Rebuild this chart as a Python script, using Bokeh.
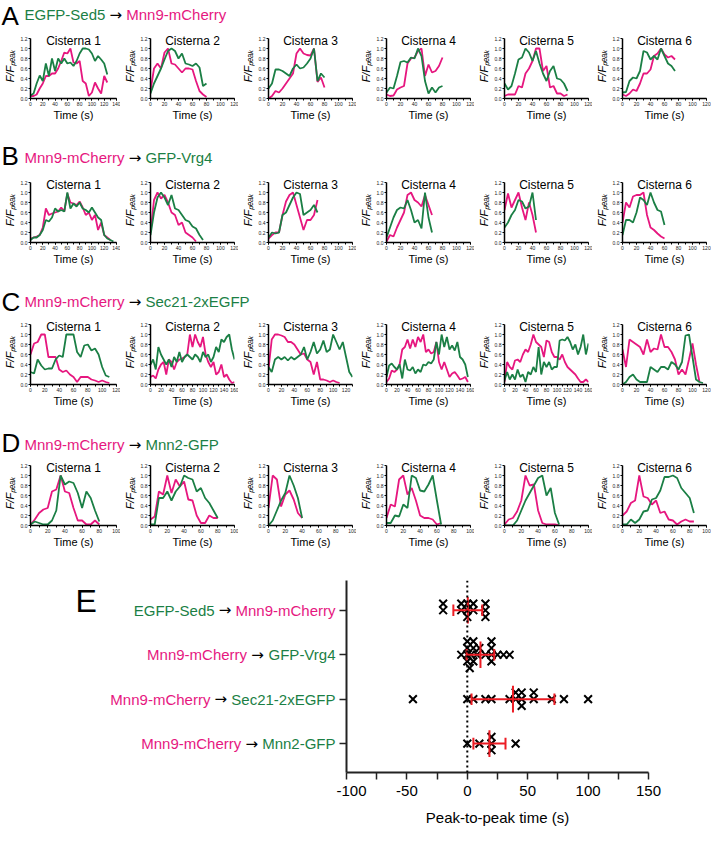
import numpy as np
from bokeh.plotting import figure
from bokeh.layouts import column, row
from bokeh.models import Range1d, FixedTicker, Label, Span, PrintfTickFormatter
from bokeh.embed import file_html
from bokeh.resources import INLINE
from bokeh.core.properties import value

GREEN = "#1b7f45"
MAGENTA = "#e6177f"
RED = "#ec1c24"
FONT = "Liberation Sans"
ARROW_FONT = "DejaVu Sans"
COLORS = {"green": GREEN, "magenta": MAGENTA}

STEP = 5  # sampling interval of the traces (s)

CISTERNAE = ["Cisterna 1", "Cisterna 2", "Cisterna 3", "Cisterna 4", "Cisterna 5", "Cisterna 6"]
Y_LABEL = "F/F\u209a\u2091\u2090\u2096"
X_LABEL = "Time (s)"

# ---------------- Row A ----------------
HEAD_A = ("A", ("EGFP-Sed5", "green"), ("Mnn9-mCherry", "magenta"))
A_XMAX = [140, 120, 120, 120, 120, 120]
A_GREEN = [
    [0.06, 0.1, 0.3, 0.46, 0.35, 0.7, 0.45, 0.8, 0.55, 0.8, 0.7, 0.8, 0.7, 0.72, 0.65, 0.75, 0.9, 1.0, 1.0, 0.98, 0.9, 0.75, 0.85, 0.78, 0.7, 0.48],
    [0.1, 0.3, 0.45, 0.6, 0.78, 0.95, 1.0, 0.95, 0.8, 0.9, 0.7, 0.68, 0.65, 0.7, 0.62, 0.25, 0.3],
    [0.2, 0.3, 0.58, 0.58, 0.55, 0.5, 0.45, 0.6, 0.68, 0.6, 0.62, 0.7, 0.8, 1.0, 0.35, 0.5, 0.42],
    [0.12, 0.22, 0.2, 0.45, 0.73, 0.75, 0.72, 0.82, 0.8, 1.0, 0.85, 0.35, 0.1, 0.22, 0.12, 0.22, 0.25],
    [0.3, 0.18, 0.25, 0.5, 0.78, 0.82, 1.0, 0.92, 0.75, 0.95, 0.7, 0.5, 0.35, 0.55, 0.65, 0.4, 0.38, 0.3, 0.15],
    [0.12, 0.13, 0.35, 0.42, 0.4, 0.55, 0.95, 0.92, 0.78, 0.85, 0.78, 1.0, 0.85, 0.7, 0.65, 0.55],
]
A_MAGENTA = [
    [0.05, 0.05, 0.08, 0.2, 0.3, 0.45, 0.45, 0.5, 0.5, 0.6, 0.75, 0.92, 0.9, 1.0, 0.72, 0.7, 0.75, 0.35, 0.3, 0.05, 0.12, 0.32, 0.2, 0.1, 0.45, 0.32],
    [0.15, 0.6, 0.7, 0.6, 0.92, 1.0, 0.7, 0.68, 0.6, 0.52, 0.6, 0.6, 0.58, 0.35, 0.15, 0.08, 0.03],
    [0.0, 0.05, 0.15, 0.12, 0.2, 0.3, 0.4, 0.5, 0.9, 1.0, 0.9, 0.87, 0.86, 1.0, 0.33, 0.42, 0.22],
    [0.08, 0.05, 0.06, 0.18, 0.22, 0.25, 0.7, 0.8, 0.82, 0.95, 1.0, 0.45, 0.68, 0.52, 0.55, 0.65, 0.82],
    [0.05, 0.08, 0.08, 0.08, 0.25, 0.22, 0.5, 0.6, 0.75, 1.0, 1.0, 0.55, 0.65, 0.22, 0.25, 0.1, 0.1, 0.05, 0.08],
    [0.08, 0.05, 0.1, 0.18, 0.15, 0.3, 0.5, 0.5, 0.58, 0.85, 0.9, 1.0, 0.88, 0.82, 0.85, 0.78],
]

# ---------------- Row B ----------------
HEAD_B = ("B", ("Mnn9-mCherry", "magenta"), ("GFP-Vrg4", "green"))
B_XMAX = [140, 120, 120, 120, 120, 120]
B_GREEN = [
    [0.05, 0.1, 0.1, 0.15, 0.25, 0.45, 0.42, 0.5, 0.68, 0.62, 0.65, 0.62, 1.0, 0.68, 0.78, 0.72, 0.8, 0.68, 0.65, 0.6, 0.7, 0.6, 0.5, 0.45, 0.15, 0.08, 0.05, 0.02],
    [0.15, 0.6, 0.9, 1.0, 0.9, 0.75, 0.95, 0.68, 0.65, 0.55, 0.45, 0.42, 0.32, 0.28, 0.15, 0.05],
    [0.1, 0.2, 0.18, 0.2, 0.55, 0.6, 0.75, 0.9, 1.0, 0.97, 0.55, 0.6, 0.65, 0.75, 0.6],
    [0.1, 0.3, 0.5, 0.65, 0.7, 0.68, 0.85, 0.65, 0.4, 0.45, 0.28, 1.0, 0.5, 0.2],
    [0.3, 0.4, 0.55, 0.65, 0.85, 0.82, 0.68, 0.72, 1.0, 0.45],
    [0.15, 0.45, 0.45, 0.4, 0.6, 0.9, 0.85, 0.75, 1.0, 0.8, 0.65, 0.62, 0.35],
]
B_MAGENTA = [
    [0.08, 0.1, 0.12, 0.15, 0.3, 0.68, 0.55, 0.58, 0.6, 0.62, 0.7, 0.62, 0.98, 0.8, 0.78, 0.75, 0.82, 0.7, 0.55, 0.6, 0.45, 0.55, 0.25, 0.4, 0.15, 0.1, 0.05],
    [0.2, 0.85, 1.0, 0.88, 0.95, 0.8, 0.6, 0.55, 0.35, 0.4, 0.2, 0.15, 0.1, 0.02],
    [0.08, 0.15, 0.2, 0.2, 0.55, 0.82, 0.95, 1.0, 0.75, 0.5, 0.25, 0.45, 0.45, 0.55, 0.85],
    [0.02, 0.15, 0.12, 0.3, 0.45, 0.6, 0.95, 1.0, 0.85, 0.8, 0.72, 0.95, 0.75, 0.55],
    [0.65, 0.98, 0.7, 0.85, 1.0, 0.7, 0.45, 0.8, 0.55, 0.2],
    [0.4, 0.8, 0.7, 0.92, 0.95, 0.95, 1.0, 0.55, 0.3, 0.25, 0.18, 0.12, 0.08],
]

# ---------------- Row C ----------------
HEAD_C = ("C", ("Mnn9-mCherry", "magenta"), ("Sec21-2xEGFP", "green"))
C_XMAX = [120, 160, 130, 160, 160, 120]
C_GREEN = [
    [0.25, 0.22, 0.5, 0.38, 0.3, 0.32, 0.32, 0.5, 0.58, 0.55, 1.0, 1.0, 1.0, 0.65, 0.55, 0.78, 0.8, 0.68, 0.72, 0.6, 0.35, 0.18, 0.15],
    [0.4, 0.5, 0.3, 0.75, 0.6, 0.5, 0.4, 0.5, 0.35, 0.55, 0.45, 0.65, 0.45, 0.55, 0.6, 0.55, 0.5, 0.6, 0.55, 0.45, 0.65, 0.55, 0.6, 0.45, 0.55, 0.75, 0.65, 0.9, 0.85, 0.95, 1.0, 0.7, 0.5],
    [0.35, 0.25, 0.5, 0.55, 0.5, 0.55, 0.48, 0.55, 0.5, 0.55, 0.6, 0.75, 0.5, 0.65, 0.85, 0.62, 0.7, 0.88, 0.65, 0.7, 1.0, 0.85, 0.7, 0.85, 0.55, 0.25, 0.15],
    [0.15, 0.38, 0.42, 0.35, 0.3, 0.4, 0.12, 0.5, 0.3, 0.28, 0.35, 0.22, 0.3, 0.25, 0.4, 0.38, 0.45, 0.42, 0.5, 0.85, 0.6, 1.0, 0.75, 0.95, 0.7, 0.78, 0.68, 0.85, 0.55, 0.5, 0.4, 0.15],
    [0.08, 0.25, 0.1, 0.2, 0.1, 0.3, 0.15, 0.2, 0.05, 0.25, 0.2, 0.35, 0.25, 0.75, 0.2, 0.45, 0.35, 0.45, 0.3, 0.35, 0.35, 0.88, 0.9, 0.88, 0.95, 0.85, 0.7, 0.8, 0.6, 0.75, 1.0, 0.6, 0.82],
    [0.0, 0.05, 0.15, 0.2, 0.1, 0.05, 0.05, 0.05, 0.35, 0.3, 0.25, 0.35, 0.35, 0.3, 0.45, 0.4, 0.3, 0.45, 0.98, 1.0, 0.55, 0.1, 0.05, 0.03],
]
C_MAGENTA = [
    [0.6, 0.82, 0.85, 1.0, 1.0, 0.55, 0.55, 0.55, 0.3, 0.25, 0.28, 0.2, 0.15, 0.05, 0.15, 0.15, 0.15, 0.1, 0.08, 0.05, 0.08, 0.05, 0.03],
    [0.15, 0.18, 0.12, 0.3, 0.4, 0.45, 0.2, 0.5, 0.45, 0.3, 0.45, 0.5, 0.52, 0.55, 0.6, 1.0, 0.75, 1.0, 0.85, 0.75, 0.95, 0.6, 0.45, 0.35, 0.45, 0.2, 0.25, 0.4, 0.15, 0.2, 0.1, 0.03, 0.05],
    [0.3, 0.9, 1.0, 1.0, 0.98, 0.95, 0.85, 0.85, 0.8, 0.7, 0.6, 0.62, 0.5, 0.45, 0.2, 0.45, 0.1, 0.1, 0.08, 0.05, 0.08, 0.05, 0.03],
    [0.05, 0.12, 0.28, 0.25, 0.3, 0.4, 0.7, 0.75, 0.9, 0.72, 0.9, 0.75, 0.95, 0.85, 1.0, 0.65, 0.7, 0.62, 0.65, 0.85, 0.45, 0.3, 0.45, 0.3, 0.15, 0.22, 0.25, 0.18, 0.1, 0.12, 0.15, 0.05],
    [0.05, 0.45, 0.35, 0.3, 0.48, 0.5, 0.45, 0.6, 0.7, 0.65, 0.8, 1.0, 0.85, 0.8, 0.75, 0.55, 0.88, 0.85, 0.65, 0.55, 0.55, 0.5, 0.6, 0.45, 0.35, 0.3, 0.25, 0.2, 0.12, 0.05, 0.05, 0.1, 0.05],
    [0.7, 0.35, 0.9, 0.85, 0.8, 0.75, 0.6, 0.9, 0.65, 0.72, 0.7, 1.0, 0.75, 0.75, 0.65, 0.5, 0.2, 0.3, 0.2, 0.5, 0.82, 0.4, 0.05],
]

# ---------------- Row D ----------------
HEAD_D = ("D", ("Mnn9-mCherry", "magenta"), ("Mnn2-GFP", "green"))
D_XMAX = [100, 100, 100, 100, 100, 100]
D_GREEN = [
    [0.02, 0.08, 0.05, 0.02, 0.02, 0.1, 0.3, 1.0, 0.82, 0.88, 0.85, 0.65, 0.35, 0.68, 0.55, 0.3, 0.08],
    [0.02, 0.02, 0.55, 0.55, 0.68, 0.5, 0.68, 0.78, 1.0, 0.95, 0.92, 0.68, 0.75, 0.55, 0.45, 0.3, 0.15],
    [0.0, 0.1, 0.3, 0.5, 0.65, 1.0, 0.8, 0.55, 0.15],
    [0.05, 0.05, 0.2, 0.18, 0.42, 0.35, 1.0, 0.95, 0.7, 0.68, 0.82, 1.0, 0.5, 0.02],
    [0.0, 0.0, 0.0, 0.1, 0.3, 0.5, 0.65, 0.8, 0.95, 1.0, 0.6, 0.75, 0.25, 0.02],
    [0.02, 0.02, 0.12, 0.05, 0.12, 0.28, 0.3, 0.52, 0.55, 0.7, 0.97, 0.97, 1.0, 0.95, 0.75, 0.65, 0.55, 0.25],
]
D_MAGENTA = [
    [0.02, 0.12, 0.25, 0.32, 0.35, 0.68, 0.72, 1.0, 0.68, 0.65, 0.35, 0.1, 0.1, 0.02, 0.02, 0.1, 0.02],
    [0.12, 0.18, 0.68, 0.62, 1.0, 0.65, 0.92, 0.78, 0.88, 0.52, 0.5, 0.2, 0.05, 0.05, 0.2, 0.15, 0.15],
    [0.35, 1.0, 0.92, 0.38, 0.62, 0.7, 0.52, 0.25, 0.15],
    [0.15, 0.42, 0.38, 0.92, 1.0, 0.62, 0.75, 0.5, 0.2, 0.15, 0.15, 0.12, 0.02, 0.05],
    [0.02, 0.12, 0.15, 0.28, 0.5, 1.0, 0.8, 0.82, 0.3, 0.05, 0.02, 0.02, 0.02, 0.0],
    [0.2, 0.28, 0.45, 0.5, 1.0, 0.58, 0.55, 0.42, 0.5, 0.25, 0.28, 0.12, 0.1, 0.02, 0.08, 0.12, 0.08, 0.08],
]

# ---------------- Panel E ----------------
E_ROWS = [
    (("EGFP-Sed5", "green"), ("Mnn9-mCherry", "magenta")),
    (("Mnn9-mCherry", "magenta"), ("GFP-Vrg4", "green")),
    (("Mnn9-mCherry", "magenta"), ("Sec21-2xEGFP", "green")),
    (("Mnn9-mCherry", "magenta"), ("Mnn2-GFP", "green")),
]
E_VALUES = [
    [-20, -20, -5, -5, 0, 0, 0, 5, 5, 15, 15, 15],
    [-5, 0, 0, 0, 0, 2, 3, 5, 5, 5, 8, 10, 15, 20, 20, 20, 20, 25, 30, 35],
    [-45, 0, 5, 15, 20, 35, 40, 40, 45, 45, 45, 55, 55, 70, 80, 100],
    [0, 10, 20, 20, 20, 40],
]
E_XTICKS = [-100, -50, 0, 50, 100, 150]
E_XMINOR = [-75, -25, 25, 75, 125]
E_XLABEL = "Peak-to-peak time (s)"

# Arial / Liberation Sans advance widths (1/1000 em); arrow from DejaVu Sans
CW = {" ": 278, "(": 333, ")": 333, "-": 333, "\u2192": 838,
      "A": 667, "B": 667, "C": 722, "D": 722, "E": 667, "F": 611, "G": 778, "M": 833,
      "P": 667, "S": 667, "V": 667, "a": 556, "c": 500, "d": 556, "e": 556, "g": 556,
      "h": 556, "i": 222, "k": 500, "m": 833, "n": 556, "o": 556, "p": 556, "r": 333,
      "s": 500, "t": 278, "x": 500, "y": 500}


def tw(s, size):
    return sum(CW.get(c, 556) for c in s) * size / 1000.0


TOTAL_W = 711
PANEL_W = [120, 118, 118, 118, 118, 119]
PANEL_LB = [30, 28, 28, 28, 28, 28]
FW, ROW_H, BT, BB = 86, 93, 3, 25
Y_TOP = 1.3


def styled_text(p, x, y, text, color, size, align="left", baseline="middle", font=FONT):
    p.text(x=[x], y=[y], text=[text], text_font=value(font), text_font_size=value(size),
           text_align=align, text_baseline=baseline, text_color=color)


def header(spec, h, text_mid, letter_mid):
    letter, (t1, c1), (t2, c2) = spec
    p = figure(width=TOTAL_W, height=h, x_range=Range1d(0, TOTAL_W), y_range=Range1d(0, h),
               min_border=0, x_axis_location=None, y_axis_location=None, title=None,
               output_backend="svg", toolbar_location=None)
    p.outline_line_color = None
    p.grid.visible = False
    styled_text(p, 1, letter_mid, letter, "black", "26px")
    fs = 15
    x = 24
    styled_text(p, x, text_mid, t1, COLORS[c1], "15px")
    x += tw(t1, fs) + tw(" ", fs)
    styled_text(p, x, text_mid, "\u2192", "black", "15px", font=ARROW_FONT)
    x += tw("\u2192", fs) + tw(" ", fs)
    styled_text(p, x, text_mid, t2, COLORS[c2], "15px")
    return row(p, spacing=0)


def panel(k, xmax, green, magenta):
    w = PANEL_W[k]
    lb = PANEL_LB[k]
    p = figure(width=w, height=ROW_H, x_range=Range1d(0, xmax), y_range=Range1d(0, Y_TOP),
               min_border_left=lb, min_border_right=w - lb - FW, min_border_top=BT,
               min_border_bottom=BB, title=None, output_backend="svg", toolbar_location=None)
    p.grid.visible = False
    p.outline_line_color = None
    tm = [i * STEP for i in range(len(magenta))]
    tg = [i * STEP for i in range(len(green))]
    p.line(tm, magenta, line_color=MAGENTA, line_width=1.8)
    p.line(tg, green, line_color=GREEN, line_width=1.8)
    xa, ya = p.xaxis[0], p.yaxis[0]
    xa.ticker = FixedTicker(ticks=list(range(0, xmax + 1, 20)), minor_ticks=list(range(0, xmax + 1, 10)))
    ya.ticker = FixedTicker(ticks=[0.0, 0.2, 0.4, 0.6, 0.8, 1.0, 1.2], minor_ticks=[])
    ya.formatter = PrintfTickFormatter(format="%.1f")
    ya.bounds = (0, 1.2)
    for ax in (xa, ya):
        ax.axis_line_width = 1.5
        ax.axis_line_color = "black"
        ax.major_tick_out = 2
        ax.major_tick_in = 0
        ax.minor_tick_out = 2
        ax.minor_tick_in = 0
        ax.major_tick_line_color = "black"
        ax.minor_tick_line_color = "black"
        ax.major_label_text_font = FONT
        ax.major_label_text_font_size = "5px"
        ax.major_label_standoff = 1
        ax.major_label_text_color = "#222222"
        ax.axis_label_text_font = FONT
        ax.axis_label_text_color = "black"
    xa.axis_label = X_LABEL
    xa.axis_label_text_font_size = "11px"
    xa.axis_label_text_font_style = "normal"
    xa.axis_label_standoff = 0
    ya.axis_label = Y_LABEL
    ya.axis_label_text_font_size = "11px"
    ya.axis_label_text_font_style = "italic"
    ya.axis_label_standoff = 2
    p.add_layout(Label(x=xmax / 2, y=1.2, y_offset=-2, text=CISTERNAE[k], text_align="center",
                       text_baseline="middle", text_font=FONT, text_font_size="12px",
                       text_color="black"))
    return p


def panel_row(xmaxs, greens, magentas):
    return row(*[panel(k, xmaxs[k], greens[k], magentas[k]) for k in range(6)], spacing=0)


def swarm(vals, step=0.15, xtol=3.0):
    placed = []
    res = [0.0] * len(vals)
    cands = [0.0]
    for j in range(1, 12):
        cands += [j * step, -j * step]
    for i in sorted(range(len(vals)), key=lambda i: vals[i]):
        v = vals[i]
        for c in cands:
            if all(not (abs(v - pv) < xtol and abs(c - po) < step * 0.9) for pv, po in placed):
                break
        placed.append((v, c))
        res[i] = c
    return res


E_H, E_TOP, E_BOT = 278, 30, 56
LABEL_W = 336
E_LB = 10


def panel_e():
    yr = Range1d(0.35, 4.67)
    pl = figure(width=LABEL_W, height=E_H, x_range=Range1d(0, LABEL_W), y_range=yr,
                min_border_left=0, min_border_right=0, min_border_top=E_TOP,
                min_border_bottom=E_BOT, x_axis_location=None, y_axis_location=None,
                title=None, output_backend="svg", toolbar_location=None)
    pl.outline_line_color = None
    pl.grid.visible = False
    fs = 15
    for r, ((t1, c1), (t2, c2)) in enumerate(E_ROWS):
        yc = 4 - r
        x = LABEL_W - 1
        styled_text(pl, x, yc, t2, COLORS[c2], "15px", align="right")
        x -= tw(t2, fs) + tw(" ", fs)
        styled_text(pl, x, yc, "\u2192", "black", "15px", align="right", font=ARROW_FONT)
        x -= tw("\u2192", fs) + tw(" ", fs)
        styled_text(pl, x, yc, t1, COLORS[c1], "15px", align="right")
    styled_text(pl, 75, 4.2, "E", "black", "32px")

    pE = figure(width=TOTAL_W - LABEL_W, height=E_H, x_range=Range1d(-100, 150), y_range=yr,
                min_border_left=E_LB, min_border_right=TOTAL_W - LABEL_W - E_LB - 302,
                min_border_top=E_TOP, min_border_bottom=E_BOT, title=None,
                output_backend="svg", toolbar_location=None)
    pE.grid.visible = False
    pE.outline_line_color = None
    pE.add_layout(Span(location=0, dimension="height", line_dash="2 3", line_width=2,
                       line_color="black"))
    xs, ys = [], []
    for r, vals in enumerate(E_VALUES):
        yc = 4 - r
        offs = swarm(vals)
        xs += list(vals)
        ys += [yc + o for o in offs]
    pE.scatter(xs, ys, marker="x", size=11, line_width=2, color="black")
    hx0, hx1, hy0, hy1 = [], [], [], []
    for r, vals in enumerate(E_VALUES):
        yc = 4 - r
        m = float(np.mean(vals))
        sd = float(np.std(vals, ddof=1))
        hx0 += [m - sd, m, m - sd, m + sd]
        hx1 += [m + sd, m, m - sd, m + sd]
        hy0 += [yc, yc - 0.3, yc - 0.13, yc - 0.13]
        hy1 += [yc, yc + 0.3, yc + 0.13, yc + 0.13]
    pE.segment(hx0, hy0, hx1, hy1, line_color=RED, line_width=2)

    xa, ya = pE.xaxis[0], pE.yaxis[0]
    xa.ticker = FixedTicker(ticks=E_XTICKS, minor_ticks=E_XMINOR)
    xa.major_label_overrides = {t: str(t) for t in E_XTICKS}
    ya.ticker = FixedTicker(ticks=[1, 2, 3, 4], minor_ticks=[])
    for ax in (xa, ya):
        ax.axis_line_width = 2
        ax.axis_line_color = "#222222"
        ax.major_tick_line_color = "#222222"
        ax.minor_tick_line_color = "#222222"
        ax.major_tick_line_width = 1.5
        ax.minor_tick_line_width = 1.5
        ax.major_tick_out = 7
        ax.major_tick_in = 0
        ax.minor_tick_out = 7
        ax.minor_tick_in = 0
    xa.major_label_text_font = FONT
    xa.major_label_text_font_size = "15px"
    xa.major_label_text_color = "black"
    xa.major_label_standoff = 6
    xa.axis_label = E_XLABEL
    xa.axis_label_text_font = FONT
    xa.axis_label_text_font_size = "15px"
    xa.axis_label_text_font_style = "normal"
    xa.axis_label_text_color = "black"
    xa.axis_label_standoff = 10
    ya.major_label_text_font_size = "0px"
    ya.major_label_standoff = 0
    return row(pl, pE, spacing=0)


layout = column(
    header(HEAD_A, 30, 16, 15),
    panel_row(A_XMAX, A_GREEN, A_MAGENTA),
    header(HEAD_B, 51, 17, 18.5),
    panel_row(B_XMAX, B_GREEN, B_MAGENTA),
    header(HEAD_C, 49, 15, 15),
    panel_row(C_XMAX, C_GREEN, C_MAGENTA),
    header(HEAD_D, 48, 13, 15),
    panel_row(D_XMAX, D_GREEN, D_MAGENTA),
    panel_e(),
    spacing=0,
)

open("out.html", "w").write(file_html(layout, INLINE))
